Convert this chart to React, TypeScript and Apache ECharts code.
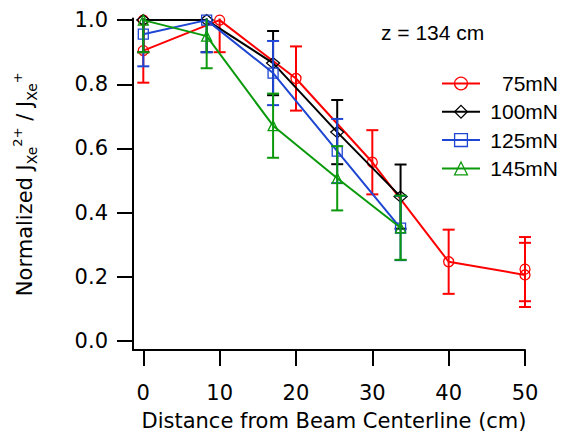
import React, { useEffect, useRef } from 'react';
import * as echarts from 'echarts';

// ---- data ----
const SERIES_NAMES = ['75mN', '100mN', '125mN', '145mN'];
const SERIES_COLORS = ['#ff0000', '#000000', '#1e46d2', '#0b9a0b'];
const SERIES_SYMBOLS = ['circle', 'diamond', 'rect', 'triangle'];

const X_75 = [0, 0, 10, 20, 30, 40, 50, 50];
const Y_75 = [1.0, 0.905, 1.0, 0.818, 0.557, 0.247, 0.206, 0.224];
const E_75 = [0.1, 0.1, 0.1, 0.1, 0.1, 0.1, 0.1, 0.1];

const X_OTHERS = [0, 8.3, 17.0, 25.4, 33.7];
const Y_100 = [1.0, 1.0, 0.866, 0.651, 0.45];
const E_100 = [0.1, 0.1, 0.1, 0.1, 0.1];
const Y_125 = [0.956, 1.0, 0.835, 0.592, 0.352];
const E_125 = [0.1, 0.1, 0.1, 0.1, 0.1];
const Y_145 = [1.0, 0.95, 0.671, 0.507, 0.353];
const E_145 = [0.1, 0.1, 0.1, 0.1, 0.1];

const X_TICKS = [0, 10, 20, 30, 40, 50];
const Y_TICKS = [0, 0.2, 0.4, 0.6, 0.8, 1.0];

const X_MIN = -1.35;
const X_MAX = 50;
const Y_MIN = -0.028;
const Y_MAX = 1.005;

const ANNOTATION = 'z = 134 cm';
const X_TITLE = 'Distance from Beam Centerline (cm)';

const SERIES_X = [X_75, X_OTHERS, X_OTHERS, X_OTHERS];
const SERIES_Y = [Y_75, Y_100, Y_125, Y_145];
const SERIES_E = [E_75, E_100, E_125, E_145];

const NUM_FONT = 'DejaVu Sans';
const TXT_FONT = 'Liberation Sans';

function buildOption(): any {
  const series: any[] = [];
  SERIES_NAMES.forEach((name, si) => {
    const color = SERIES_COLORS[si];
    const xs = SERIES_X[si];
    const ys = SERIES_Y[si];
    const es = SERIES_E[si];
    series.push({
      type: 'custom',
      name: name + ' error',
      z: 2 + si,
      silent: true,
      data: xs.map((x, i) => [x, ys[i] - es[i], ys[i] + es[i]]),
      encode: { x: 0, y: [1, 2] },
      renderItem: (params: any, api: any) => {
        const x = api.value(0);
        const lo = api.value(1);
        const hi = api.value(2);
        const loC = Math.max(lo, Y_MIN);
        const hiC = Math.min(hi, Y_MAX);
        const pHi = api.coord([x, hiC]);
        const pLo = api.coord([x, loC]);
        const st = { stroke: color, lineWidth: 2 };
        const children: any[] = [
          { type: 'line', shape: { x1: pHi[0], y1: pHi[1], x2: pLo[0], y2: pLo[1] }, style: st },
        ];
        const hw = 6;
        if (hi <= Y_MAX) {
          children.push({ type: 'line', shape: { x1: pHi[0] - hw, y1: pHi[1], x2: pHi[0] + hw, y2: pHi[1] }, style: st });
        }
        if (lo >= Y_MIN) {
          children.push({ type: 'line', shape: { x1: pLo[0] - hw, y1: pLo[1], x2: pLo[0] + hw, y2: pLo[1] }, style: st });
        }
        return { type: 'group', children };
      },
    });
    series.push({
      type: 'line',
      name,
      z: 2 + si,
      silent: true,
      data: xs.map((x, i) => [x, ys[i]]),
      symbol: SERIES_SYMBOLS[si],
      symbolSize: SERIES_SYMBOLS[si] === 'diamond' ? [13, 11] : 10,
      showAllSymbol: true,
      lineStyle: { color, width: 2 },
      itemStyle: { color: 'rgba(0,0,0,0)', borderColor: color, borderWidth: 1.3 },
      emphasis: { disabled: true },
    });
  });

  return {
    animation: false,
    backgroundColor: '#ffffff',
    grid: { left: 133, top: 18.5, right: 40, bottom: 86, outerBoundsMode: 'none', containLabel: false },
    xAxis: {
      type: 'value',
      min: X_MIN,
      max: X_MAX,
      name: X_TITLE,
      nameLocation: 'middle',
      nameGap: 60,
      nameTextStyle: { fontFamily: NUM_FONT, fontSize: 21, color: '#000', padding: [0, 0, 0, 10] },
      axisLine: { show: true, onZero: false, lineStyle: { color: '#000', width: 2 } },
      axisTick: { show: true, inside: false, length: 16, lineStyle: { color: '#000', width: 2 }, customValues: X_TICKS },
      axisLabel: { margin: 32, fontFamily: NUM_FONT, fontSize: 21, color: '#000', customValues: X_TICKS, formatter: (v: number) => String(v) },
      splitLine: { show: false },
    },
    yAxis: {
      type: 'value',
      min: Y_MIN,
      max: Y_MAX,
      name: '{m|Normalized J}{s|Xe}{p|2+}{m| / J}{s|Xe}{p|+}',
      nameLocation: 'middle',
      nameRotate: 90,
      nameGap: 94,
      nameTextStyle: {
        color: '#000',
        rich: {
          m: { fontFamily: NUM_FONT, fontSize: 21, lineHeight: 28, color: '#000' },
          s: { fontFamily: NUM_FONT, fontSize: 14, lineHeight: 14, verticalAlign: 'bottom', color: '#000' },
          p: { fontFamily: NUM_FONT, fontSize: 13, lineHeight: 13, verticalAlign: 'top', color: '#000' },
        },
      },
      axisLine: { show: true, onZero: false, lineStyle: { color: '#000', width: 2 } },
      axisTick: { show: true, inside: false, length: 16, lineStyle: { color: '#000', width: 2 }, customValues: Y_TICKS },
      axisLabel: { margin: 25, fontFamily: NUM_FONT, fontSize: 21, color: '#000', customValues: Y_TICKS, formatter: (v: number) => v.toFixed(1) },
      splitLine: { show: false },
    },
    legend: {
      data: SERIES_NAMES,
      orient: 'vertical',
      left: 441,
      top: 73,
      padding: 0,
      itemWidth: 38,
      itemHeight: 16,
      itemGap: 7.3,
      selectedMode: false,
      itemStyle: { borderWidth: 1.3 },
      lineStyle: { width: 2 },
      formatter: '{n|{name}}',
      textStyle: {
        fontFamily: TXT_FONT,
        fontSize: 21,
        color: '#000',
        lineHeight: 16,
        rich: { n: { width: 73, align: 'right', fontFamily: TXT_FONT, fontSize: 21, lineHeight: 16, color: '#000' } },
      },
    },
    graphic: [
      {
        type: 'text',
        x: 381,
        y: 32,
        silent: true,
        style: { text: ANNOTATION, fontFamily: TXT_FONT, fontSize: 21, fill: '#000', align: 'left', verticalAlign: 'middle' },
      },
    ],
    series,
  };
}

export default function App() {
  const ref = useRef<HTMLDivElement>(null);
  useEffect(() => {
    const chart = echarts.init(ref.current!, null, { renderer: 'svg' });
    chart.setOption(buildOption());
    return () => chart.dispose();
  }, []);
  return (
    <div
      ref={ref}
      style={{ position: 'fixed', left: 0, top: 0, width: 565, height: 436, background: '#fff' }}
    />
  );
}
